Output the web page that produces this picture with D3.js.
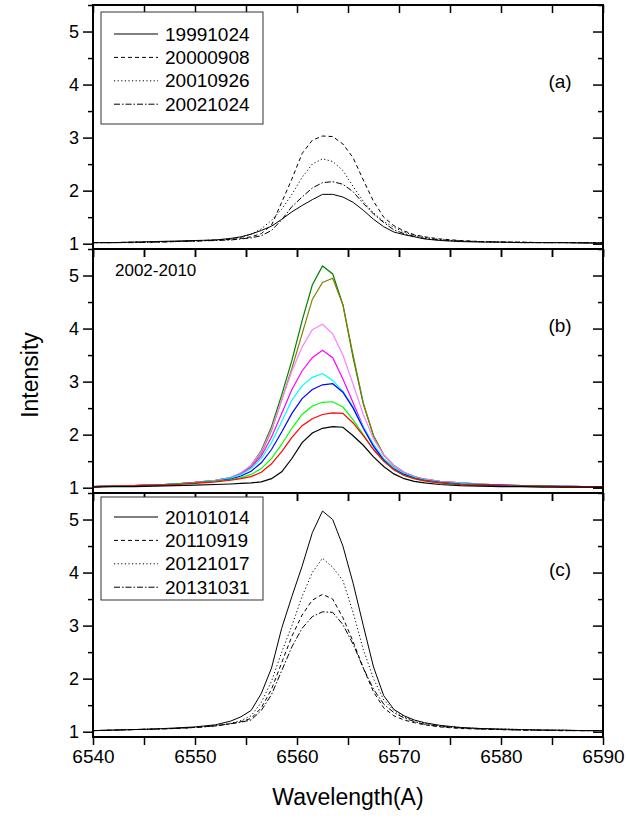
<!DOCTYPE html>
<html>
<head>
<meta charset="utf-8">
<script src="https://cdn.jsdelivr.net/npm/d3@7"></script>
<style>
  body { margin: 0; background: #fff; }
  text { font-family: "Liberation Sans", Arial, sans-serif; fill: #000; }
</style>
</head>
<body>
<div id="wrapper"></div>
<script>
// wavelength grid (A), shared by every profile
const wavelengths = [6540, 6542, 6544, 6546, 6548, 6550, 6552,
  6553.5, 6554.5, 6555.5, 6556.5, 6557.5, 6558.5, 6559.5, 6560.5, 6561.5,
  6562.5, 6563.5, 6564.5, 6565.5, 6566.5, 6567.5, 6568.5, 6569.5,
  6570.5, 6571.5, 6572.5, 6574, 6576, 6578, 6580, 6582, 6584, 6586, 6588, 6590]

// panel (a)
const labelsA = ["19991024", "20000908", "20010926", "20021024"]
const i19991024 = [1.02,1.02,1.03,1.04,1.05,1.06,1.07, 1.10,1.13,1.18,1.25,1.33,1.46,1.60,1.72,1.83,1.93,1.93,1.88,1.78,1.63,1.46,1.32,1.22,1.17,1.13,1.09, 1.06,1.04,1.03,1.03,1.02,1.02,1.02,1.01,1.01]
const i20000908 = [1.02,1.02,1.03,1.03,1.04,1.05,1.07, 1.08,1.10,1.13,1.19,1.35,1.78,2.22,2.70,2.95,3.03,3.02,2.88,2.62,2.20,1.80,1.50,1.34,1.24,1.17,1.13, 1.09,1.06,1.04,1.03,1.03,1.02,1.02,1.02,1.02]
const i20010926 = [1.02,1.02,1.03,1.03,1.04,1.05,1.07, 1.09,1.12,1.18,1.28,1.44,1.65,1.93,2.25,2.50,2.60,2.55,2.38,2.08,1.80,1.58,1.42,1.31,1.22,1.16,1.12, 1.08,1.05,1.04,1.03,1.03,1.02,1.02,1.02,1.02]
const i20021024 = [1.02,1.02,1.02,1.03,1.04,1.05,1.06, 1.07,1.09,1.11,1.15,1.25,1.45,1.70,1.88,2.05,2.15,2.17,2.12,1.98,1.76,1.56,1.40,1.26,1.19,1.14,1.10, 1.07,1.05,1.04,1.03,1.02,1.02,1.02,1.02,1.01]

// panel (b) 2002-2010, one profile per colour
const colorsB = ["#008000", "#808000", "#ff80ff", "#ff00ff", "#00ffff", "#0000ff", "#00ff00", "#ff0000", "#000000"]
const bGreen   = [1.02,1.03,1.04,1.05,1.07,1.10,1.14, 1.19,1.27,1.42,1.70,2.15,2.75,3.40,4.15,4.82,5.18,5.03,4.45,3.45,2.58,1.98,1.62,1.42,1.29,1.21,1.16, 1.12,1.09,1.07,1.05,1.04,1.03,1.03,1.02,1.02]
const bOlive   = [1.02,1.03,1.04,1.05,1.07,1.10,1.14, 1.19,1.27,1.40,1.65,2.08,2.65,3.25,3.90,4.55,4.87,4.95,4.45,3.50,2.60,1.98,1.62,1.42,1.29,1.21,1.16, 1.12,1.09,1.07,1.05,1.04,1.03,1.03,1.02,1.02]
const bPink    = [1.02,1.03,1.04,1.05,1.07,1.10,1.14, 1.19,1.28,1.42,1.68,2.10,2.65,3.20,3.65,3.98,4.08,3.90,3.50,2.95,2.38,1.92,1.62,1.42,1.29,1.21,1.16, 1.12,1.09,1.07,1.05,1.04,1.03,1.03,1.02,1.02]
const bMagenta = [1.02,1.03,1.04,1.05,1.07,1.10,1.13, 1.18,1.26,1.38,1.60,1.95,2.40,2.85,3.20,3.45,3.59,3.45,3.05,2.60,2.15,1.80,1.54,1.38,1.27,1.20,1.15, 1.11,1.08,1.06,1.05,1.04,1.03,1.03,1.02,1.02]
const bCyan    = [1.02,1.03,1.04,1.05,1.07,1.09,1.13, 1.18,1.25,1.36,1.55,1.85,2.25,2.65,2.92,3.08,3.15,3.02,2.82,2.52,2.15,1.82,1.55,1.38,1.27,1.20,1.15, 1.11,1.08,1.06,1.05,1.04,1.03,1.03,1.02,1.02]
const bBlue    = [1.02,1.03,1.04,1.05,1.07,1.09,1.12, 1.16,1.22,1.31,1.47,1.72,2.05,2.40,2.68,2.85,2.94,2.96,2.80,2.50,2.12,1.78,1.52,1.35,1.25,1.18,1.14, 1.10,1.07,1.06,1.05,1.04,1.03,1.02,1.02,1.02]
const bLime    = [1.02,1.03,1.04,1.05,1.07,1.09,1.12, 1.15,1.19,1.25,1.36,1.55,1.82,2.12,2.38,2.54,2.61,2.62,2.52,2.28,2.00,1.72,1.50,1.34,1.23,1.17,1.13, 1.09,1.06,1.05,1.04,1.03,1.03,1.02,1.02,1.02]
const bRed     = [1.02,1.03,1.04,1.05,1.06,1.08,1.11, 1.14,1.17,1.21,1.29,1.45,1.68,1.95,2.17,2.30,2.38,2.41,2.40,2.22,1.98,1.72,1.50,1.34,1.23,1.17,1.13, 1.09,1.06,1.05,1.04,1.03,1.03,1.02,1.02,1.02]
const bBlack   = [1.01,1.02,1.02,1.03,1.04,1.05,1.06, 1.07,1.08,1.09,1.11,1.17,1.30,1.55,1.85,2.03,2.12,2.15,2.14,1.98,1.80,1.58,1.40,1.26,1.17,1.12,1.09, 1.06,1.04,1.03,1.02,1.02,1.01,1.01,1.01,1.01]

// panel (c)
const labelsC = ["20101014", "20110919", "20121017", "20131031"]
const i20101014 = [1.02,1.03,1.04,1.05,1.07,1.09,1.13, 1.20,1.28,1.40,1.72,2.20,2.95,3.55,4.12,4.75,5.16,5.00,4.50,3.80,3.00,2.22,1.68,1.42,1.30,1.22,1.17, 1.12,1.08,1.06,1.05,1.04,1.03,1.03,1.02,1.02]
const i20110919 = [1.02,1.03,1.04,1.05,1.06,1.08,1.11, 1.15,1.19,1.25,1.45,1.80,2.30,2.80,3.20,3.48,3.59,3.50,3.15,2.70,2.20,1.75,1.45,1.30,1.22,1.17,1.13, 1.09,1.06,1.05,1.04,1.03,1.03,1.02,1.02,1.02]
const i20121017 = [1.02,1.03,1.04,1.05,1.06,1.08,1.11, 1.16,1.21,1.30,1.55,1.95,2.50,3.00,3.55,4.00,4.27,4.10,3.85,3.25,2.55,2.00,1.60,1.40,1.28,1.21,1.16, 1.11,1.08,1.06,1.05,1.04,1.03,1.03,1.02,1.02]
const i20131031 = [1.02,1.03,1.04,1.05,1.06,1.08,1.11, 1.15,1.18,1.22,1.40,1.70,2.15,2.60,2.95,3.17,3.26,3.25,3.02,2.65,2.20,1.80,1.52,1.36,1.26,1.19,1.14, 1.10,1.07,1.05,1.04,1.03,1.03,1.02,1.02,1.02]

const xTicks = [6540, 6550, 6560, 6570, 6580, 6590]
const yTicks = [1, 2, 3, 4, 5]

// line styles: solid, dash, dot, dash-dot
const dashes = [null, "4,3", "1.2,2.4", "6,2,1.5,2"]

function drawChart() {

  let dimensions = {
    width: 627,
    height: 819,
    panelHeight: 244,
    margins: { top: 5, right: 24, left: 93 },
  }
  dimensions.boundedWidth = dimensions.width - dimensions.margins.left - dimensions.margins.right

  const svg = d3.select("#wrapper")
    .append("svg")
    .attr("width", dimensions.width)
    .attr("height", dimensions.height)

  const xScale = d3.scaleLinear()
    .domain([6540, 6590])
    .range([0, dimensions.boundedWidth])

  const yScale = d3.scaleLinear()
    .domain([0.9, 5.5])
    .range([dimensions.panelHeight, 0])

  const line = d3.line()
    .x((d, i) => xScale(wavelengths[i]))
    .y(d => yScale(d))

  const panels = [
    { tag: "(a)", series: [i19991024, i20000908, i20010926, i20021024], labels: labelsA, legendTop: 7, legendH: 112, firstRow: 22 },
    { tag: "(b)", series: [bGreen, bOlive, bPink, bMagenta, bCyan, bBlue, bLime, bRed, bBlack], colors: colorsB },
    { tag: "(c)", series: [i20101014, i20110919, i20121017, i20131031], labels: labelsC, legendTop: 4, legendH: 103, firstRow: 20 },
  ]

  panels.forEach((p, k) => {
    const top = dimensions.margins.top + k * dimensions.panelHeight
    const g = svg.append("g")
      .attr("transform", `translate(${dimensions.margins.left},${top})`)

    // curves
    p.series.forEach((s, j) => {
      g.append("path")
        .datum(s)
        .attr("d", line)
        .attr("fill", "none")
        .attr("stroke", p.colors ? p.colors[j] : "#000")
        .attr("stroke-width", p.colors ? 1.2 : 1)
        .attr("stroke-dasharray", p.colors ? null : dashes[j])
    })

    // y axes: left outward, right inward (both ticks point left)
    const yMinor = d3.range(1.5, 5.6, 1)
    const left = g.append("g")
    left.call(d3.axisLeft(yScale).tickValues(yTicks).tickSize(10).tickFormat(d3.format("d")))
    left.append("g").call(d3.axisLeft(yScale).tickValues(yMinor).tickSize(5).tickFormat(""))
    const right = g.append("g").attr("transform", `translate(${dimensions.boundedWidth},0)`)
    right.call(d3.axisLeft(yScale).tickValues(yTicks).tickSize(10).tickFormat(""))
    right.append("g").call(d3.axisLeft(yScale).tickValues(yMinor).tickSize(5).tickFormat(""))

    // x axes: top inward, bottom outward (ticks point down)
    const xAll = d3.range(6540, 6591, 5)
    g.append("g").call(d3.axisBottom(xScale).tickValues(xAll).tickSize(8).tickFormat(""))
    const bottom = g.append("g").attr("transform", `translate(0,${dimensions.panelHeight})`)
    bottom.call(d3.axisBottom(xScale).tickValues(xAll).tickSize(8)
      .tickFormat(d => (k === 2 && xTicks.includes(d)) ? d : ""))

    g.selectAll(".domain").remove()
    g.selectAll(".tick line").attr("stroke", "#000").attr("stroke-width", 1.5)
    g.selectAll(".tick text").style("font-size", "18px").attr("fill", "#000")
    left.selectAll(".tick text").attr("x", -14)
    bottom.selectAll(".tick text").attr("y", 13).style("font-size", "19px")

    g.append("rect")
      .attr("width", dimensions.boundedWidth)
      .attr("height", dimensions.panelHeight)
      .attr("fill", "none")
      .attr("stroke", "#000")
      .attr("stroke-width", 2)

    g.append("text")
      .attr("x", 467)
      .attr("y", yScale(4.07))
      .attr("dy", "0.35em")
      .attr("text-anchor", "middle")
      .style("font-size", "19px")
      .text(p.tag)

    if (k === 1) {
      g.append("text")
        .attr("x", 22)
        .attr("y", 27)
        .style("font-size", "17px")
        .text("2002-2010")
    }

    // legend
    if (p.labels) {
      const lg = g.append("g").attr("transform", `translate(8,${p.legendTop})`)
      lg.append("rect")
        .attr("width", 162)
        .attr("height", p.legendH)
        .attr("fill", "#fff")
        .attr("stroke", "#333")
        .attr("stroke-width", 1)
      p.labels.forEach((lab, j) => {
        const yy = p.firstRow + j * 23.4
        lg.append("line")
          .attr("x1", 13).attr("x2", 57)
          .attr("y1", yy).attr("y2", yy)
          .attr("stroke", "#000")
          .attr("stroke-width", 1)
          .attr("stroke-dasharray", dashes[j])
        lg.append("text")
          .attr("x", 64)
          .attr("y", yy)
          .attr("dy", "0.35em")
          .style("font-size", "19px")
          .text(lab)
      })
    }
  })

  svg.append("text")
    .attr("x", dimensions.margins.left + dimensions.boundedWidth / 2)
    .attr("y", 805)
    .attr("text-anchor", "middle")
    .style("font-size", "23px")
    .text("Wavelength(A)")

  svg.append("text")
    .attr("transform", `translate(38,375) rotate(-90)`)
    .attr("text-anchor", "middle")
    .style("font-size", "23px")
    .text("Intensity")
}

drawChart()
</script>
</body>
</html>
